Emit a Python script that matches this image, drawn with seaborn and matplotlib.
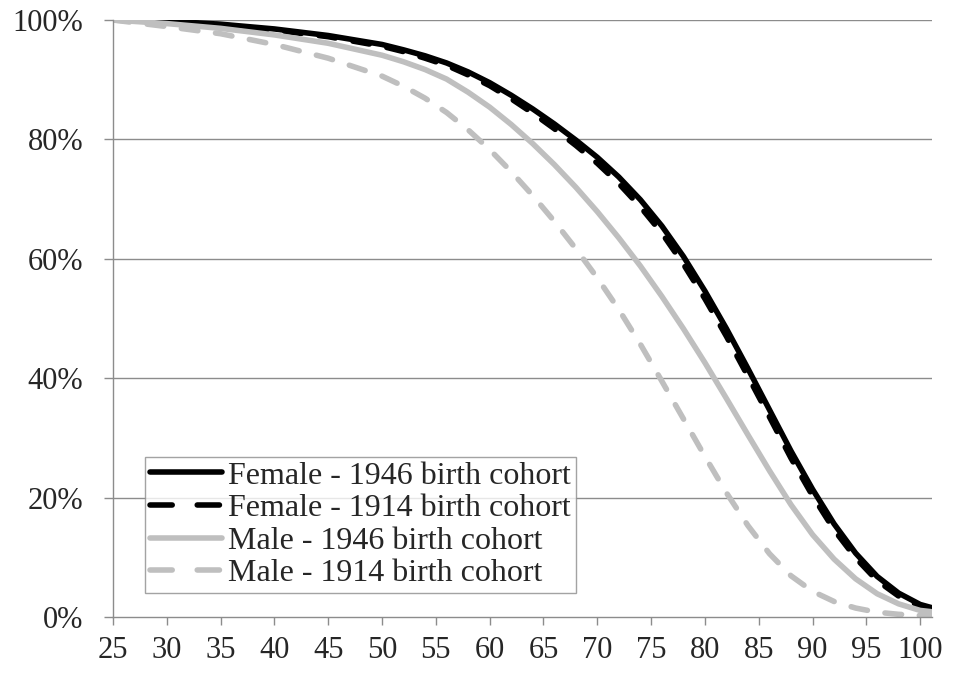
import matplotlib
matplotlib.use("Agg")
import matplotlib.pyplot as plt
import seaborn as sns
import pandas as pd

# Survival (% still alive) by age
ages = [25, 30, 35, 40, 45, 50, 52, 54, 56, 58, 60, 62, 64, 66, 68, 70, 72, 74,
        76, 78, 80, 82, 84, 86, 88, 90, 92, 94, 96, 98, 100, 101]

female_1946 = [100.0, 99.8, 99.3, 98.5, 97.4, 95.9, 95.0, 94.0, 92.8, 91.3, 89.5, 87.4,
               85.1, 82.6, 79.9, 77.0, 73.7, 69.9, 65.5, 60.4, 54.6, 48.3, 41.6, 34.7,
               27.8, 21.4, 15.6, 10.7, 6.8, 4.0, 2.1, 1.6]
female_1914 = [100.0, 99.7, 99.2, 98.3, 97.2, 95.6, 94.7, 93.6, 92.4, 90.8, 89.0, 86.8,
               84.4, 81.8, 79.0, 76.0, 72.6, 68.7, 64.3, 59.1, 53.3, 47.0, 40.3, 33.5,
               26.6, 20.3, 14.6, 9.9, 6.1, 3.5, 1.8, 1.3]
male_1946 = [100.0, 99.4, 98.6, 97.5, 96.1, 94.1, 93.0, 91.7, 90.1, 87.9, 85.4, 82.5,
             79.3, 75.8, 72.0, 67.9, 63.5, 58.8, 53.7, 48.3, 42.6, 36.6, 30.5, 24.5,
             18.8, 13.8, 9.7, 6.4, 3.9, 2.2, 1.1, 0.9]
male_1914 = [100.0, 98.9, 97.7, 95.9, 93.6, 90.6, 88.9, 86.9, 84.5, 81.6, 78.3, 74.6,
             70.6, 66.3, 61.7, 56.8, 51.5, 45.7, 39.5, 33.2, 26.9, 20.8, 15.3, 10.6,
             6.9, 4.3, 2.6, 1.5, 0.8, 0.45, 0.25, 0.2]

labels = ["Female - 1946 birth cohort", "Female - 1914 birth cohort",
          "Male - 1946 birth cohort", "Male - 1914 birth cohort"]
series = [female_1946, female_1914, male_1946, male_1914]
colors = ["black", "black", "#BFBFBF", "#BFBFBF"]
dashed = [False, True, False, True]

sns.set_style("white")
plt.rcParams["font.family"] = ["Liberation Serif", "DejaVu Serif"]

fig = plt.figure(figsize=(9.55, 6.73), dpi=100)
ax = fig.add_axes([113 / 955, 56 / 673, 819 / 955, 597 / 673])

grid_col = "#8C8C8C"
for y in [20, 40, 60, 80, 100]:
    ax.axhline(y, color=grid_col, lw=1.0, zorder=0)

for lab, vals, col, dsh in zip(labels, series, colors, dashed):
    df = pd.DataFrame({"age": ages, "pct": vals})
    sns.lineplot(data=df, x="age", y="pct", ax=ax, color=col, lw=4.0,
                 label=lab, solid_capstyle="round", solid_joinstyle="round")
    l = ax.lines[-1]
    if dsh:
        l.set_linestyle((0, (3.0, 3.2)))
        l.set_dash_capstyle("round")

ax.set_xlim(25, 101.1)
ax.set_ylim(0, 100)
ax.set_xticks(range(25, 101, 5))
ax.set_yticks(range(0, 101, 20))
ax.set_yticklabels([f"{v}%" for v in range(0, 101, 20)])
ax.set_xlabel("")
ax.set_ylabel("")

for s in ["top", "right"]:
    ax.spines[s].set_visible(False)
for s in ["left", "bottom"]:
    ax.spines[s].set_color(grid_col)
    ax.spines[s].set_linewidth(1.0)

ax.tick_params(axis="x", direction="out", length=6, width=1.0, color=grid_col,
               labelsize=22, pad=8, bottom=True)
ax.tick_params(axis="y", direction="out", length=6.5, width=1.0, color=grid_col,
               labelsize=22, pad=15, left=True)

leg = ax.legend(loc="lower left", bbox_to_anchor=(0.039, 0.04), fontsize=23,
                frameon=True, fancybox=False, handlelength=2.25, handletextpad=0.2,
                labelspacing=0.1, borderpad=0.15, borderaxespad=0)
leg.get_frame().set_edgecolor(grid_col)
leg.get_frame().set_linewidth(1.0)
# two longer dashes in the legend handles, as in the original
for h, dsh in zip(leg.get_lines(), dashed):
    if dsh:
        h.set_linestyle((0, (4.0, 4.5)))
        h.set_dash_capstyle("round")

fig.savefig("out.png", dpi=100)
